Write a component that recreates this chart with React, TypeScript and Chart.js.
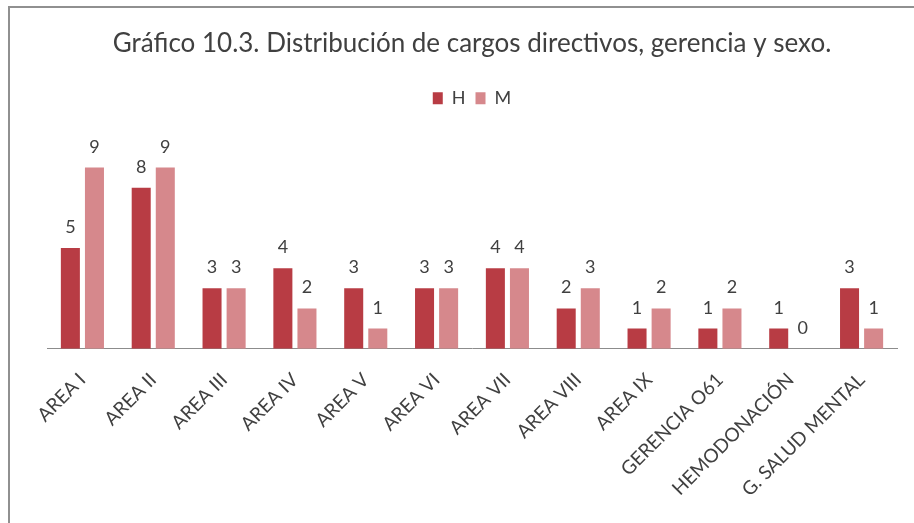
import React, { useEffect, useRef } from "react";
import { Chart, registerables } from "chart.js";

Chart.register(...registerables);

const categories = [
  "AREA I",
  "AREA II",
  "AREA III",
  "AREA IV",
  "AREA V",
  "AREA VI",
  "AREA VII",
  "AREA VIII",
  "AREA IX",
  "GERENCIA O61",
  "HEMODONACIÓN",
  "G. SALUD MENTAL",
];
const seriesH = [5, 8, 3, 4, 3, 3, 4, 2, 1, 1, 1, 3];
const seriesM = [9, 9, 3, 2, 1, 3, 4, 3, 2, 2, 0, 1];
const titleText = "Gráfico 10.3. Distribución de cargos directivos, gerencia y sexo.";

const FONT = "Lato, 'Open Sans', sans-serif";

const valueLabels = {
  id: "valueLabels",
  afterDatasetsDraw(chart: any) {
    const ctx = chart.ctx;
    ctx.save();
    ctx.font = `18px ${FONT}`;
    ctx.fillStyle = "#404040";
    ctx.textAlign = "center";
    ctx.textBaseline = "alphabetic";
    chart.data.datasets.forEach((ds: any, i: number) => {
      const meta = chart.getDatasetMeta(i);
      meta.data.forEach((el: any, j: number) => {
        ctx.fillText(String(ds.data[j]), el.x, el.y - 15);
      });
    });
    ctx.restore();
  },
};

export default function App() {
  const ref = useRef<HTMLCanvasElement | null>(null);
  useEffect(() => {
    if (!ref.current) return;
    const chart = new Chart(ref.current, {
      type: "bar",
      data: {
        labels: categories,
        datasets: [
          {
            label: "H",
            data: seriesH,
            backgroundColor: "#b83c44",
            categoryPercentage: 0.68,
            barPercentage: 0.79,
          },
          {
            label: "M",
            data: seriesM,
            backgroundColor: "#d6888c",
            categoryPercentage: 0.68,
            barPercentage: 0.79,
          },
        ],
      },
      options: {
        animation: false,
        responsive: true,
        maintainAspectRatio: false,
        layout: { padding: { left: 47, right: 17, top: 28, bottom: 2 } },
        plugins: {
          title: {
            display: true,
            text: titleText,
            color: "#404040",
            font: { family: FONT, size: 26, weight: "normal" },
            padding: { top: 0, bottom: 20 },
          },
          legend: {
            display: true,
            position: "top",
            labels: {
              color: "#404040",
              boxWidth: 10,
              boxHeight: 12,
              padding: 10,
              font: { family: FONT, size: 18 },
            },
          },
          tooltip: { enabled: false },
        },
        scales: {
          x: {
            grid: { display: false, drawTicks: false },
            border: { display: true, color: "#8c8c8c", width: 1 },
            ticks: {
              color: "#404040",
              font: { family: FONT, size: 19 },
              minRotation: 45,
              maxRotation: 45,
              padding: 20,
              autoSkip: false,
            },
          },
          y: {
            display: false,
            min: 0,
            max: 11.5,
          },
        },
      },
      plugins: [valueLabels],
    });
    return () => chart.destroy();
  }, []);
  return (
    <>
      <div
        style={{
          position: "fixed",
          left: 8,
          top: 6,
          width: 920,
          height: 530,
          border: "2px solid #909090",
          boxSizing: "border-box",
          background: "#fff",
        }}
      />
      <div style={{ position: "fixed", left: 0, top: 0, width: 914, height: 523 }}>
        <canvas ref={ref} />
      </div>
    </>
  );
}
